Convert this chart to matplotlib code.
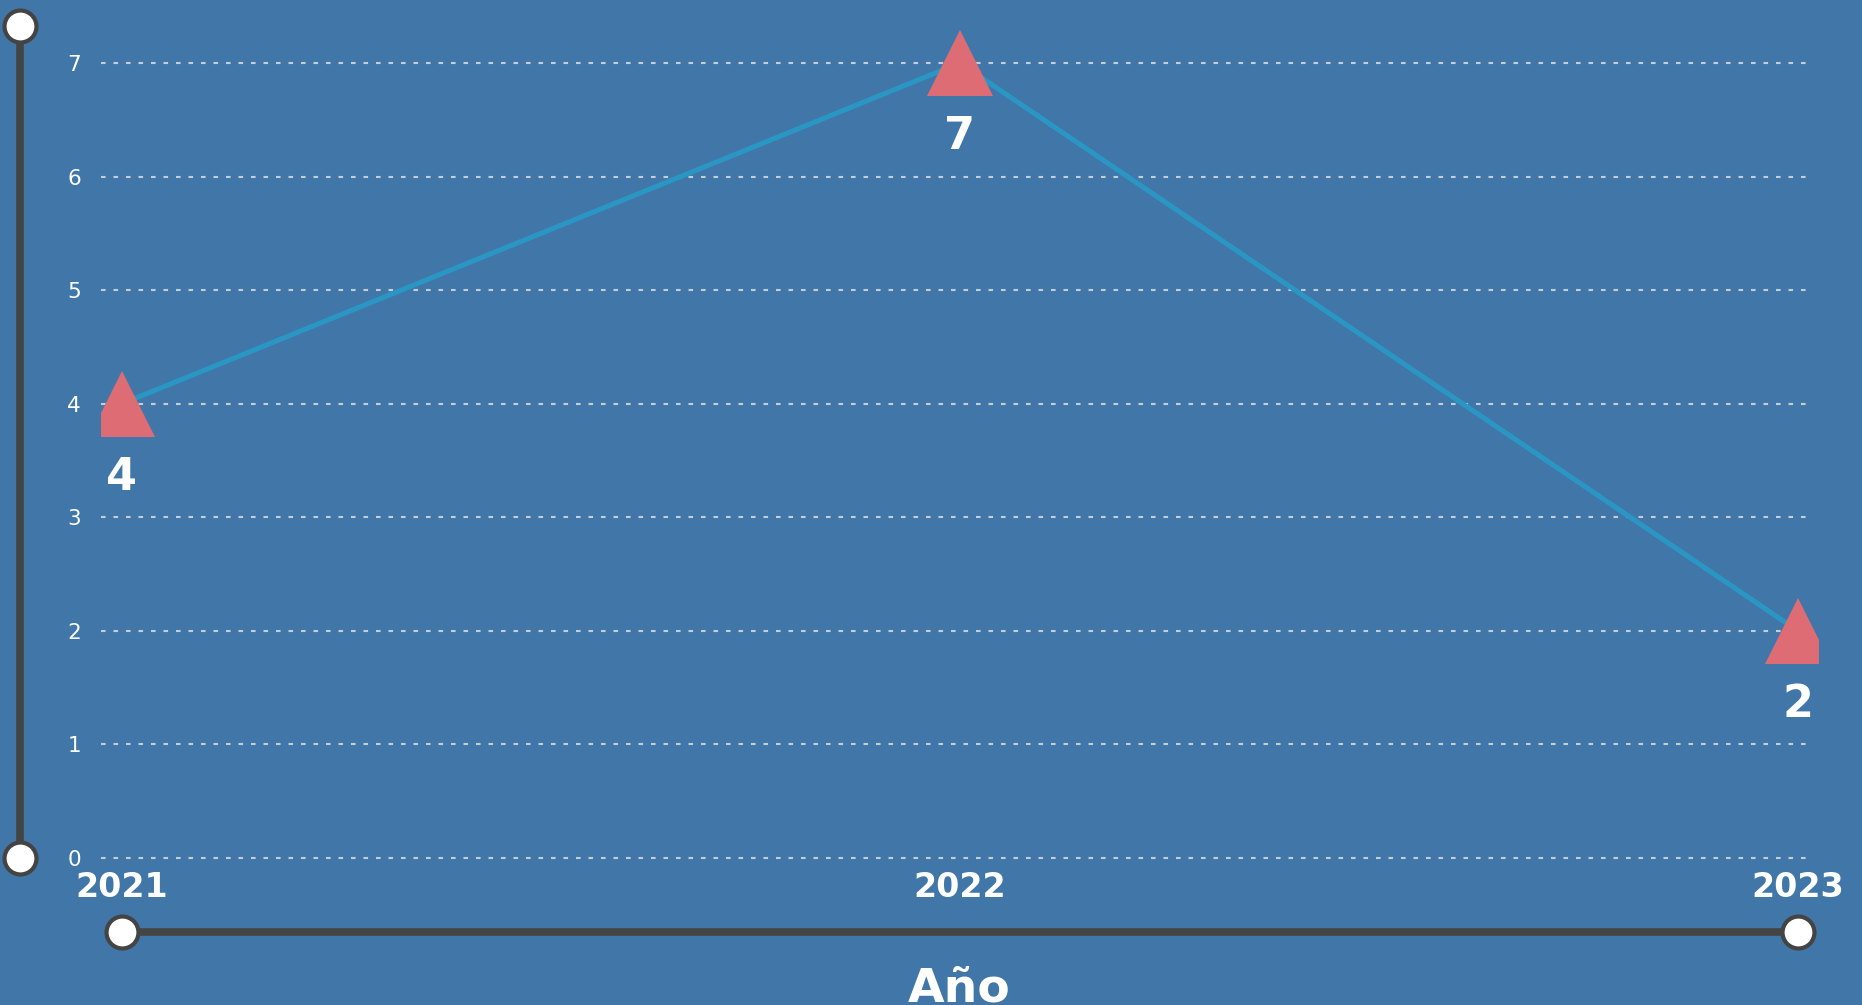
"""
    LINE CHART - VALUES PER YEAR
"""
import matplotlib
matplotlib.use("Agg")
from matplotlib import pyplot as plt

# -- Data --
years = [2021, 2022, 2023]
values = [4, 7, 2]
y_ticks = [0, 1, 2, 3, 4, 5, 6, 7]
x_title = "Año"

# -- Colours --
BG = "#4177a8"
LINE = "#2a96c4"
MARKER = "#de6c75"
AXIS = "#444444"
GRID = "#c5cdd6"

plt.rcParams['font.family'] = ['DejaVu Sans']

fig = plt.figure(figsize=(18.62, 10.05), dpi=100, facecolor=BG)
ax = fig.add_axes([0.05424, 0.13497, 0.92213, 0.83916])
ax.set_facecolor(BG)

x_lo, x_hi = 2020.975, 2023.024
ax.set_xlim(x_lo, x_hi)
ax.set_ylim(-0.1, 7.326)

# -- grid (dotted), ends a little before the right edge --
ax.set_yticks(y_ticks)
ax.hlines(y_ticks, x_lo, years[-1] + 0.013, colors=GRID, linewidth=1.5,
          linestyles=[(0, (2.2, 3.8))], zorder=1)

# -- line + triangle markers --
ax.plot(years, values, color=LINE, linewidth=3.6, zorder=2)
ax.plot(years, values, linestyle='none', marker='^', markersize=47.5,
        markerfacecolor=MARKER, markeredgewidth=0, zorder=3)

# -- value labels under the markers --
for x, v in zip(years, values):
    ax.annotate(str(v), (x, v), xytext=(0, -53), textcoords='offset points',
                ha='center', va='center', fontsize=32, fontweight='bold',
                color='white', zorder=4)

# -- ticks --
ax.set_xticks(years)
ax.set_xticklabels([str(y) for y in years], fontsize=24, fontweight='bold', color='white')
ax.tick_params(axis='x', length=0, pad=1)
ax.tick_params(axis='y', length=0, pad=14.4, labelsize=15.5, labelcolor='white')

for s in ax.spines.values():
    s.set_visible(False)

# -- custom axis lines with round ends --
ytop = ax.get_ylim()[1]
ax.plot([-0.0472, -0.0472], [0, ytop], transform=ax.get_yaxis_transform(),
        color=AXIS, linewidth=5.5, clip_on=False, zorder=5,
        marker='o', markersize=23, markerfacecolor='white',
        markeredgecolor=AXIS, markeredgewidth=3)
ax.plot([years[0], years[-1]], [-0.0742, -0.0742], transform=ax.get_xaxis_transform(),
        color=AXIS, linewidth=5.5, clip_on=False, zorder=5,
        marker='o', markersize=23, markerfacecolor='white',
        markeredgecolor=AXIS, markeredgewidth=3)

# -- axis title (cut by the bottom edge, like the original) --
ax.set_xlabel(x_title, fontsize=34, fontweight='bold', color='white', va='top')
ax.xaxis.set_label_coords(0.5, -0.1157)

fig.savefig("out.png", dpi=100, facecolor=BG)
